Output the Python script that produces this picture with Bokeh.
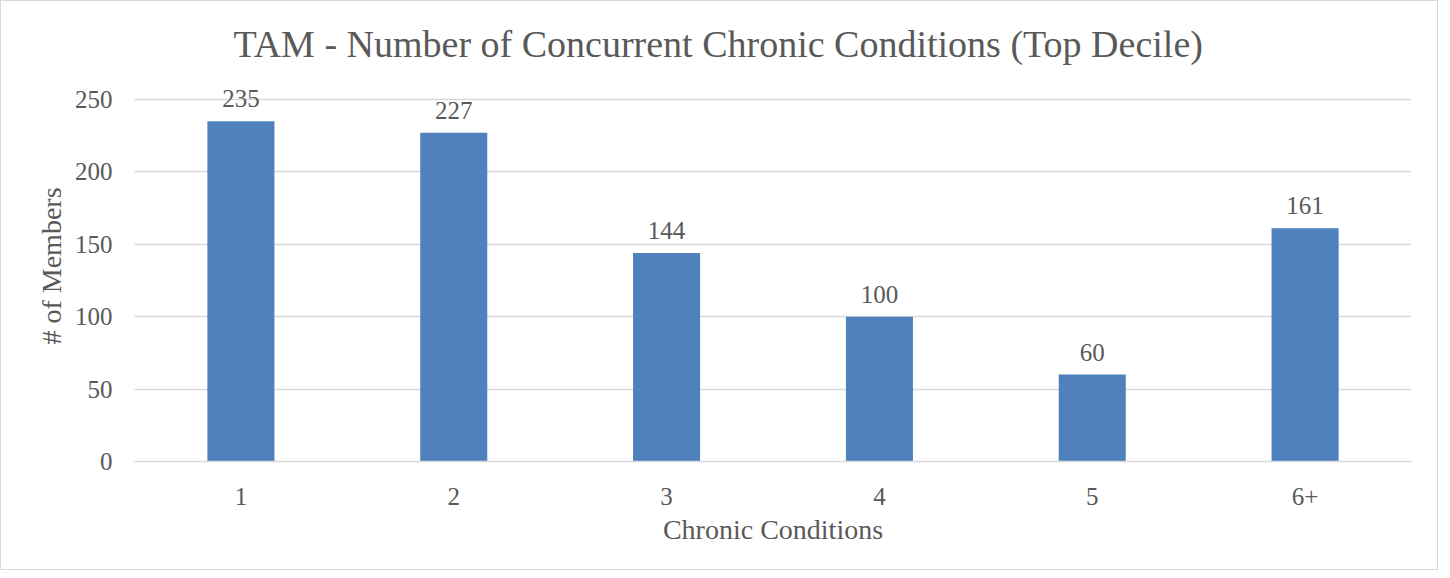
from bokeh.plotting import figure
from bokeh.models import ColumnDataSource, LabelSet, Range1d, FixedTicker
from bokeh.embed import file_html
from bokeh.resources import INLINE

categories = ["1", "2", "3", "4", "5", "6+"]
members = [235, 227, 144, 100, 60, 161]
y_ticks = [0, 50, 100, 150, 200, 250]

FONT = "Liberation Serif"
TXT = "#595959"
GRID = "#D9D9D9"

src = ColumnDataSource(dict(cat=categories, val=members, lab=[str(v) for v in members]))

p = figure(x_range=categories, y_range=Range1d(0, 270), width=1438, height=570,
           output_backend="svg", toolbar_location=None,
           title="TAM - Number of Concurrent Chronic Conditions (Top Decile)",
           min_border_left=133, min_border_right=28, min_border_top=69, min_border_bottom=110)
p.styles = {"border": "1px solid #D9D9D9", "box-sizing": "border-box"}
p.outline_line_color = None

p.vbar(x="cat", top="val", width=0.315, source=src, fill_color="#4F81BD", line_color=None)

labels = LabelSet(x="cat", y="val", text="lab", source=src, y_offset=14,
                  text_align="center", text_baseline="bottom",
                  text_font=FONT, text_font_size="25px", text_color=TXT)
p.add_layout(labels)

p.title.text_font = FONT
p.title.text_font_size = "38px"
p.title.text_font_style = "normal"
p.title.text_color = TXT
p.title.align = "left"
p.title.offset = 99
p.title.standoff = 12

p.xgrid.grid_line_color = None
p.ygrid.grid_line_color = GRID
p.ygrid.grid_line_width = 1.5
p.yaxis.ticker = FixedTicker(ticks=y_ticks)

for ax in (p.xaxis[0], p.yaxis[0]):
    ax.major_tick_line_color = None
    ax.minor_tick_line_color = None
    ax.major_label_text_font = FONT
    ax.major_label_text_font_size = "25px"
    ax.major_label_text_color = TXT
    ax.axis_label_text_font = FONT
    ax.axis_label_text_font_size = "28px"
    ax.axis_label_text_font_style = "normal"
    ax.axis_label_text_color = TXT

p.yaxis.axis_line_color = None
p.yaxis.axis_label = "# of Members"
p.yaxis.major_label_standoff = 16
p.yaxis.axis_label_standoff = 5
p.xaxis.axis_line_color = GRID
p.xaxis.axis_line_width = 1.5
p.xaxis.axis_label = "Chronic Conditions"
p.xaxis.major_label_standoff = 20
p.xaxis.axis_label_standoff = 6

open("out.html", "w").write(file_html(p, INLINE))
